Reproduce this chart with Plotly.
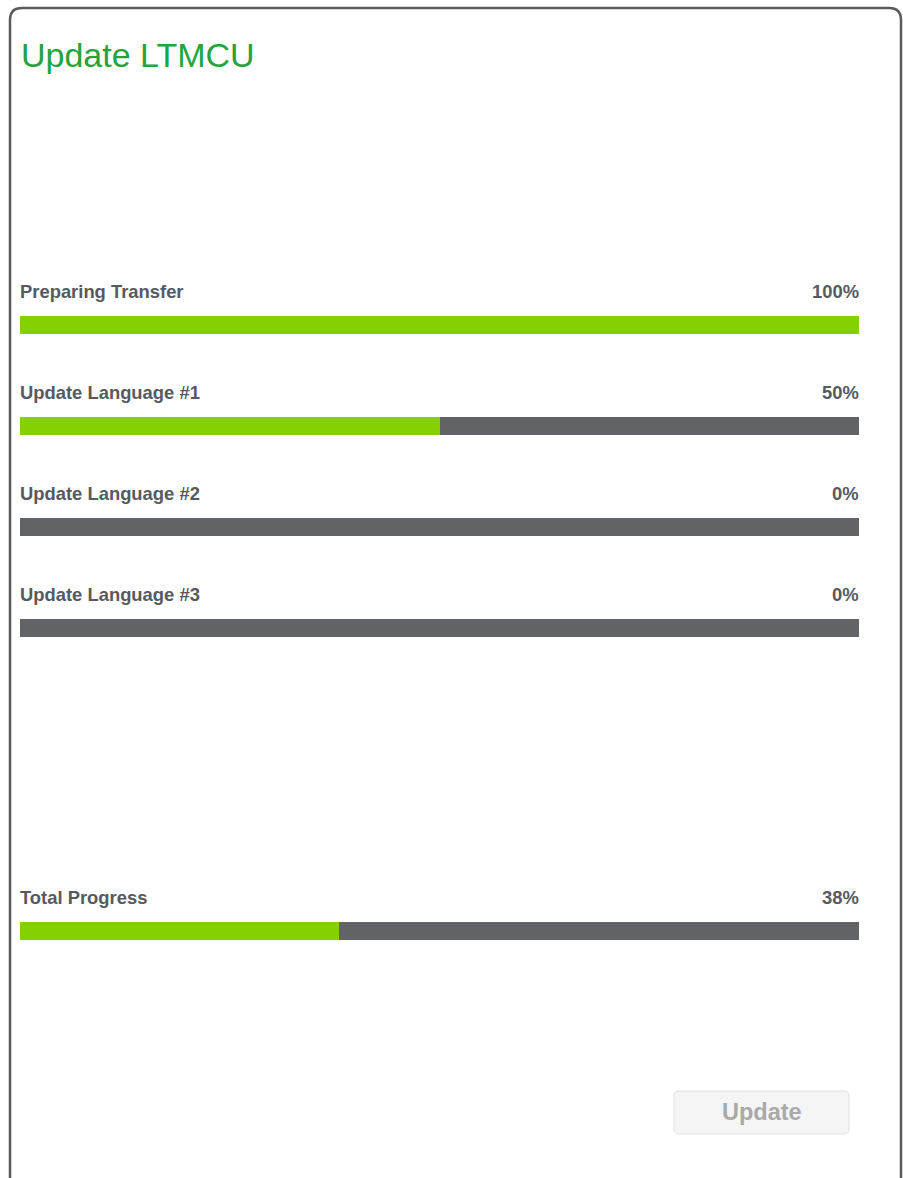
import plotly.graph_objects as go

# progress data
stages = ["Preparing Transfer", "Update Language #1", "Update Language #2",
          "Update Language #3", "Total Progress"]
percent = [100, 50, 0, 0, 38]

# layout slots (total row sits lower, after a gap)
rows = [0, 1, 2, 3, 6]

W, H = 903, 1178
ROW_PX = 101          # pixel distance between rows
FIRST_BAR_PX = 325    # centre of the first bar from the top
GREEN = "#84d000"
GREY = "#626367"
TEXT = "#565a60"
FONT = "Liberation Sans, Arial, sans-serif"


def px(x):
    return x / W


def py(y):
    return 1 - y / H


remaining = [100 - p for p in percent]

fig = go.Figure()
fig.add_trace(go.Bar(y=rows, x=percent, orientation="h", width=0.178,
                     marker=dict(color=GREEN, line=dict(width=0)), hoverinfo="skip"))
fig.add_trace(go.Bar(y=rows, x=remaining, orientation="h", width=0.178,
                     marker=dict(color=GREY, line=dict(width=0)), hoverinfo="skip"))

# annotations carry ~2px of padding, so anchors are nudged outwards
annotations = [dict(text="Update LTMCU", x=px(19), y=py(55), xref="paper", yref="paper",
                    xanchor="left", yanchor="middle", showarrow=False,
                    font=dict(family=FONT, size=34, color="#23a43d"))]
label_offset = 34 / ROW_PX
for name, p, r in zip(stages, percent, rows):
    annotations.append(dict(text="<b>%s</b>" % name, x=px(18), y=r - label_offset,
                            xref="paper", yref="y", xanchor="left", yanchor="middle",
                            showarrow=False, font=dict(family=FONT, size=18.4, color=TEXT)))
    annotations.append(dict(text="<b>%d%%</b>" % p, x=px(861), y=r - label_offset,
                            xref="paper", yref="y", xanchor="right", yanchor="middle",
                            showarrow=False, font=dict(family=FONT, size=18.4, color=TEXT)))

annotations.append(dict(text="<b>Update</b>", x=px(761.5), y=py(1112), xref="paper", yref="paper",
                        xanchor="center", yanchor="middle", showarrow=False,
                        font=dict(family=FONT, size=23.5, color="#a9a9a9")))


def rounded(x0, y0, x1, y1, r, closed=True):
    if closed:
        return ("M {a},{b} L {c},{b} Q {d},{b} {d},{e} L {d},{f} Q {d},{g} {c},{g} "
                "L {a},{g} Q {h},{g} {h},{f} L {h},{e} Q {h},{b} {a},{b} Z").format(
            a=px(x0 + r), b=py(y0), c=px(x1 - r), d=px(x1), e=py(y0 + r),
            f=py(y1 - r), g=py(y1), h=px(x0))
    return ("M {h},{g} L {h},{e} Q {h},{b} {a},{b} L {c},{b} Q {d},{b} {d},{e} L {d},{g}").format(
        a=px(x0 + r), b=py(y0), c=px(x1 - r), d=px(x1), e=py(y0 + r), g=py(y1), h=px(x0))


shapes = [
    dict(type="path", xref="paper", yref="paper", path=rounded(10, 8, 901, H + 30, 12, closed=False),
         line=dict(color="#5a5a5a", width=2.5)),
    dict(type="path", xref="paper", yref="paper", path=rounded(674, 1091, 849, 1134, 5),
         fillcolor="#f5f5f5", line=dict(color="#e2e2e2", width=1)),
]

fig.update_layout(
    width=W, height=H,
    margin=dict(l=0, r=0, t=0, b=0),
    barmode="stack", showlegend=False,
    paper_bgcolor="white", plot_bgcolor="white",
    xaxis=dict(domain=[px(20), px(859)], range=[0, 100], visible=False, fixedrange=True),
    yaxis=dict(domain=[0, 1], range=[(H - FIRST_BAR_PX) / ROW_PX, -FIRST_BAR_PX / ROW_PX],
               visible=False, fixedrange=True),
    annotations=annotations, shapes=shapes,
)

# drop the default page margin so the figure sits at the window origin
fig.write_html("out.html", config={"displayModeBar": False},
               post_script="document.body.style.margin='0';document.body.style.overflow='hidden';")
